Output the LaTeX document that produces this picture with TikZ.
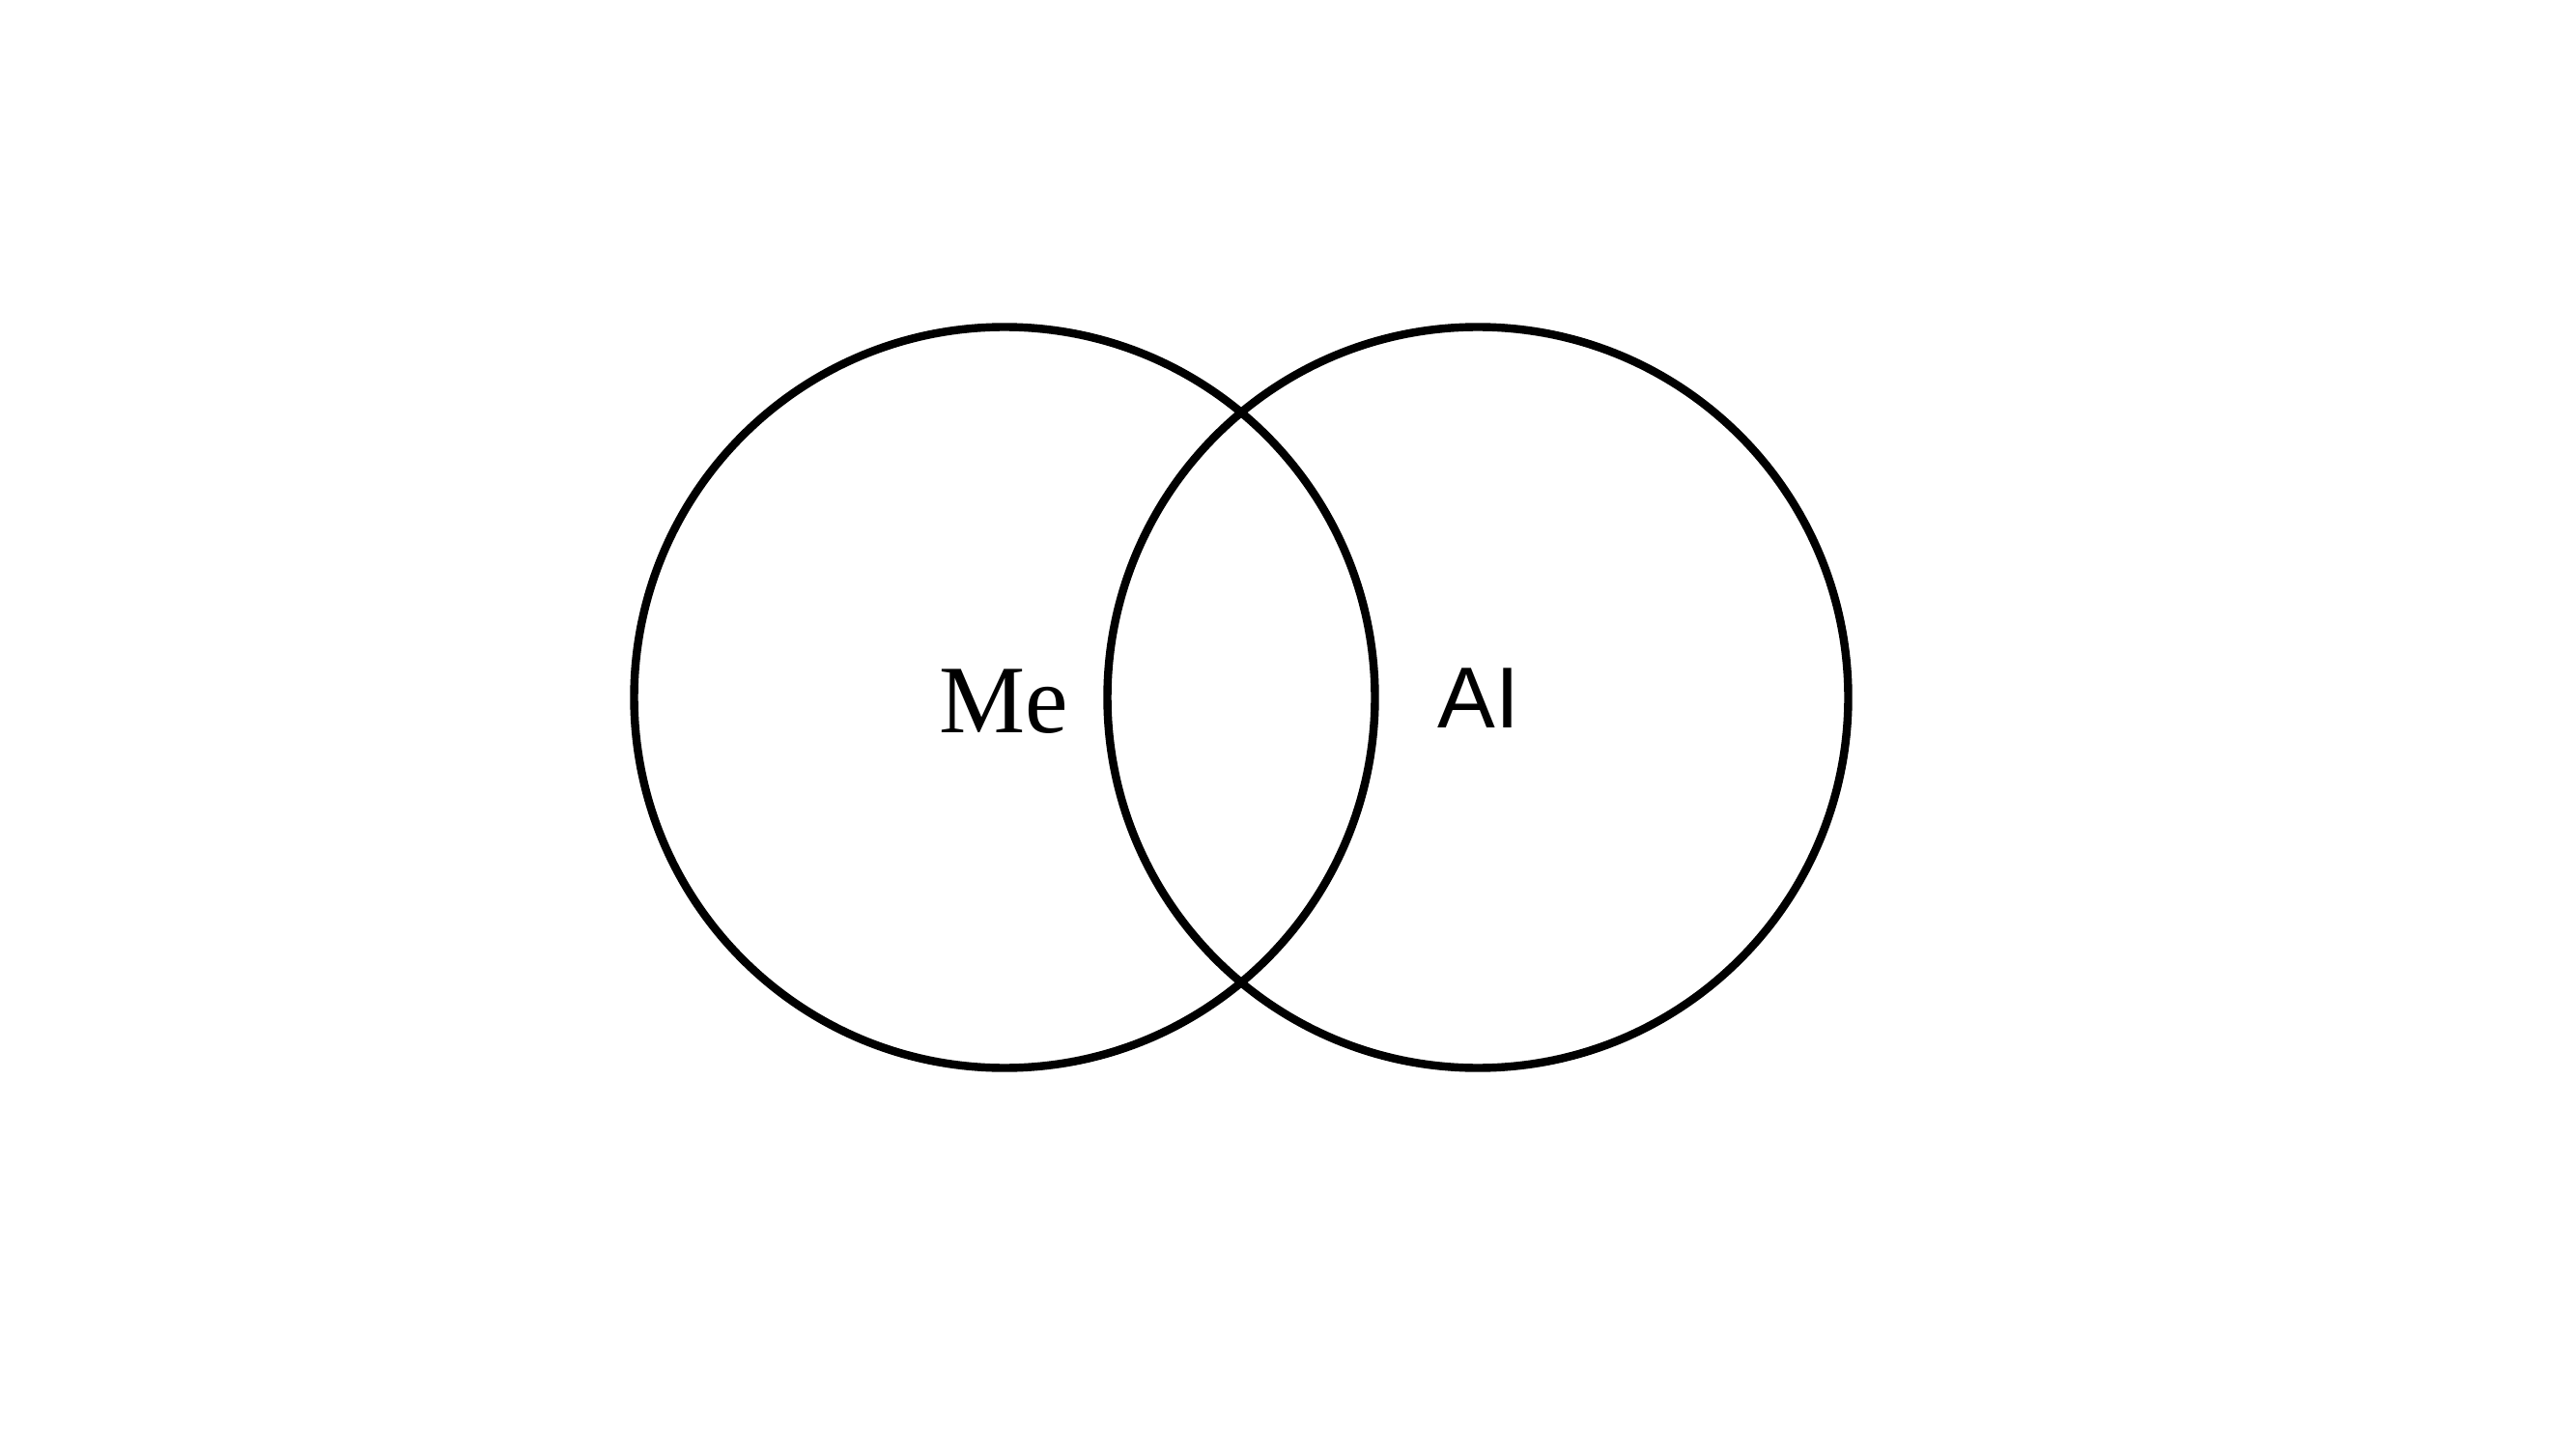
\documentclass[tikz,border=0pt]{standalone}
\usepackage{fontspec}
\setmainfont{Liberation Serif}
\newfontfamily\sansfont{Liberation Sans}
\usetikzlibrary{positioning}

\begin{document}
\begin{tikzpicture}[
    set/.style={draw=black, line width=2.4pt, circle, minimum size=7.67cm, inner sep=0pt},
    lbl/.style={anchor=base, inner sep=0pt}
]
    \useasboundingbox (0, 0) rectangle (26.67, 15);

    \node [set] (me) at (10.40, 7.78) {};
    \node [set] (ai) at (15.30, 7.78) {};

    \node [lbl, font=\fontsize{28.5}{34}\selectfont] (me_lbl) at (10.39, 7.42) {Me};
    \node [lbl, font=\sansfont\fontsize{25.5}{30}\selectfont] (ai_lbl) at (15.31, 7.47) {AI};

\end{tikzpicture}
\end{document}
